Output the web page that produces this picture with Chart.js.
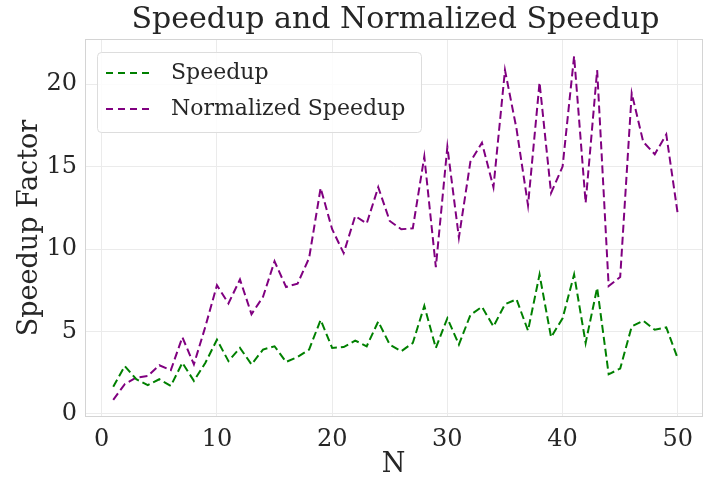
<!DOCTYPE html>
<html>
<head>
<meta charset="utf-8">
<script src="https://cdn.jsdelivr.net/npm/chart.js@4.4.1/dist/chart.umd.min.js"></script>
<style>
    html, body {
        margin: 0;
        padding: 0;
        background: #ffffff;
        overflow: hidden;
    }
    .chart-container {
        position: relative;
        width: 703px;
        height: 483px;
    }
</style>
</head>
<body>
<div class="chart-container">
    <canvas id="chart"></canvas>
</div>
<script>
    // values
    const nValues = [1, 2, 3, 4, 5, 6, 7, 8, 9, 10,
        11, 12, 13, 14, 15, 16, 17, 18, 19, 20,
        21, 22, 23, 24, 25, 26, 27, 28, 29, 30,
        31, 32, 33, 34, 35, 36, 37, 38, 39, 40,
        41, 42, 43, 44, 45, 46, 47, 48, 49, 50]
    const speedup = [1.65, 2.9, 2.1, 1.75, 2.1, 1.7, 3.1, 2.0, 3.1, 4.5,
        3.2, 4.0, 3.0, 3.9, 4.1, 3.15, 3.45, 3.9, 5.7, 4.0,
        4.05, 4.45, 4.1, 5.6, 4.2, 3.8, 4.3, 6.55, 4.0, 5.8,
        4.2, 6.0, 6.5, 5.3, 6.65, 6.95, 5.05, 8.45, 4.65, 5.8,
        8.45, 4.3, 7.65, 2.4, 2.75, 5.3, 5.65, 5.1, 5.25, 3.35]
    const normalizedSpeedup = [0.85, 1.8, 2.2, 2.3, 2.95, 2.65, 4.65, 3.0, 5.3, 7.8,
        6.7, 8.15, 6.05, 7.1, 9.25, 7.7, 7.9, 9.45, 13.7, 11.2,
        9.75, 12.0, 11.55, 13.75, 11.7, 11.2, 11.25, 15.6, 8.9, 16.2,
        10.7, 15.3, 16.45, 13.75, 20.85, 17.3, 12.65, 20.1, 13.4, 15.0,
        21.7, 12.8, 20.85, 7.75, 8.3, 19.45, 16.5, 15.75, 16.95, 12.1]
    const xTicks = [0, 10, 20, 30, 40, 50]
    const yTicks = [0, 5, 10, 15, 20]
    const chartTitle = "Speedup and Normalized Speedup"

    const serif = "'DejaVu Serif', serif"
    const textColor = "#262626"

    // frame, title centred over the plot and a legend inside the plot
    const decorations = {
        id: "decorations",
        beforeDatasetsDraw(chart) {
            const {ctx, chartArea} = chart
            ctx.save()
            ctx.strokeStyle = "#d4d4d4"
            ctx.lineWidth = 1
            ctx.strokeRect(chartArea.left + 0.5, chartArea.top + 0.5,
                chartArea.right - chartArea.left, chartArea.bottom - chartArea.top - 1)
            ctx.restore()
        },
        afterDraw(chart) {
            const {ctx, chartArea} = chart
            ctx.save()
            ctx.fillStyle = textColor
            ctx.font = "30px " + serif
            ctx.textAlign = "center"
            ctx.textBaseline = "middle"
            ctx.fillText(chartTitle, (chartArea.left + chartArea.right) / 2 + 2, 20)

            const x = chartArea.left + 12
            const y = chartArea.top + 13
            const w = 324
            const h = 80
            ctx.beginPath()
            ctx.roundRect(x + 0.5, y + 0.5, w, h, 4)
            ctx.fillStyle = "rgba(255,255,255,0.85)"
            ctx.fill()
            ctx.strokeStyle = "#dddddd"
            ctx.lineWidth = 1
            ctx.stroke()
            ctx.textAlign = "left"
            chart.data.datasets.forEach((ds, i) => {
                const cy = y + 21 + i * 36
                ctx.beginPath()
                ctx.setLineDash([7, 5])
                ctx.strokeStyle = ds.borderColor
                ctx.lineWidth = ds.borderWidth
                ctx.moveTo(x + 9, cy)
                ctx.lineTo(x + 55, cy)
                ctx.stroke()
                ctx.setLineDash([])
                ctx.fillStyle = textColor
                ctx.font = "22px " + serif
                ctx.fillText(ds.label, x + 74, cy)
            })
            ctx.restore()
        }
    }

    const toPoints = (arr) => arr.map((v, i) => {return {x: nValues[i], y: v}})

    new Chart(document.getElementById("chart").getContext("2d"), {
        type: "line",
        data: {
            datasets: [
                {
                    label: "Speedup",
                    data: toPoints(speedup),
                    borderColor: "#008000",
                    borderWidth: 2,
                    borderDash: [8, 4],
                    pointRadius: 0,
                    fill: false,
                    tension: 0
                },
                {
                    label: "Normalized Speedup",
                    data: toPoints(normalizedSpeedup),
                    borderColor: "#800080",
                    borderWidth: 2,
                    borderDash: [8, 4],
                    pointRadius: 0,
                    fill: false,
                    tension: 0
                }
            ]
        },
        options: {
            responsive: true,
            maintainAspectRatio: false,
            animation: false,
            layout: {padding: {left: 0, right: 1, top: 39, bottom: 0}},
            plugins: {
                legend: {display: false},
                tooltip: {enabled: false},
                title: {display: false}
            },
            scales: {
                x: {
                    type: "linear",
                    min: -1.45,
                    max: 52.1,
                    afterBuildTicks: (scale) => {scale.ticks = xTicks.map((v) => {return {value: v}})},
                    afterFit: (scale) => {scale.height = 66},
                    grid: {color: "#ebebeb", drawTicks: false},
                    border: {display: false},
                    ticks: {color: textColor, font: {family: serif, size: 24}, padding: 8, maxRotation: 0},
                    title: {display: true, text: "N", color: textColor, font: {family: serif, size: 27}, padding: {top: 0, bottom: 2}}
                },
                y: {
                    type: "linear",
                    min: -0.19,
                    max: 22.74,
                    afterBuildTicks: (scale) => {scale.ticks = yTicks.map((v) => {return {value: v}})},
                    afterFit: (scale) => {scale.width = 85},
                    grid: {color: "#ebebeb", drawTicks: false},
                    border: {display: false},
                    ticks: {color: textColor, font: {family: serif, size: 24}, padding: 8},
                    title: {display: true, text: "Speedup Factor", color: textColor, font: {family: serif, size: 27}, padding: {top: 14}}
                }
            }
        },
        plugins: [decorations]
    })
</script>
</body>
</html>
